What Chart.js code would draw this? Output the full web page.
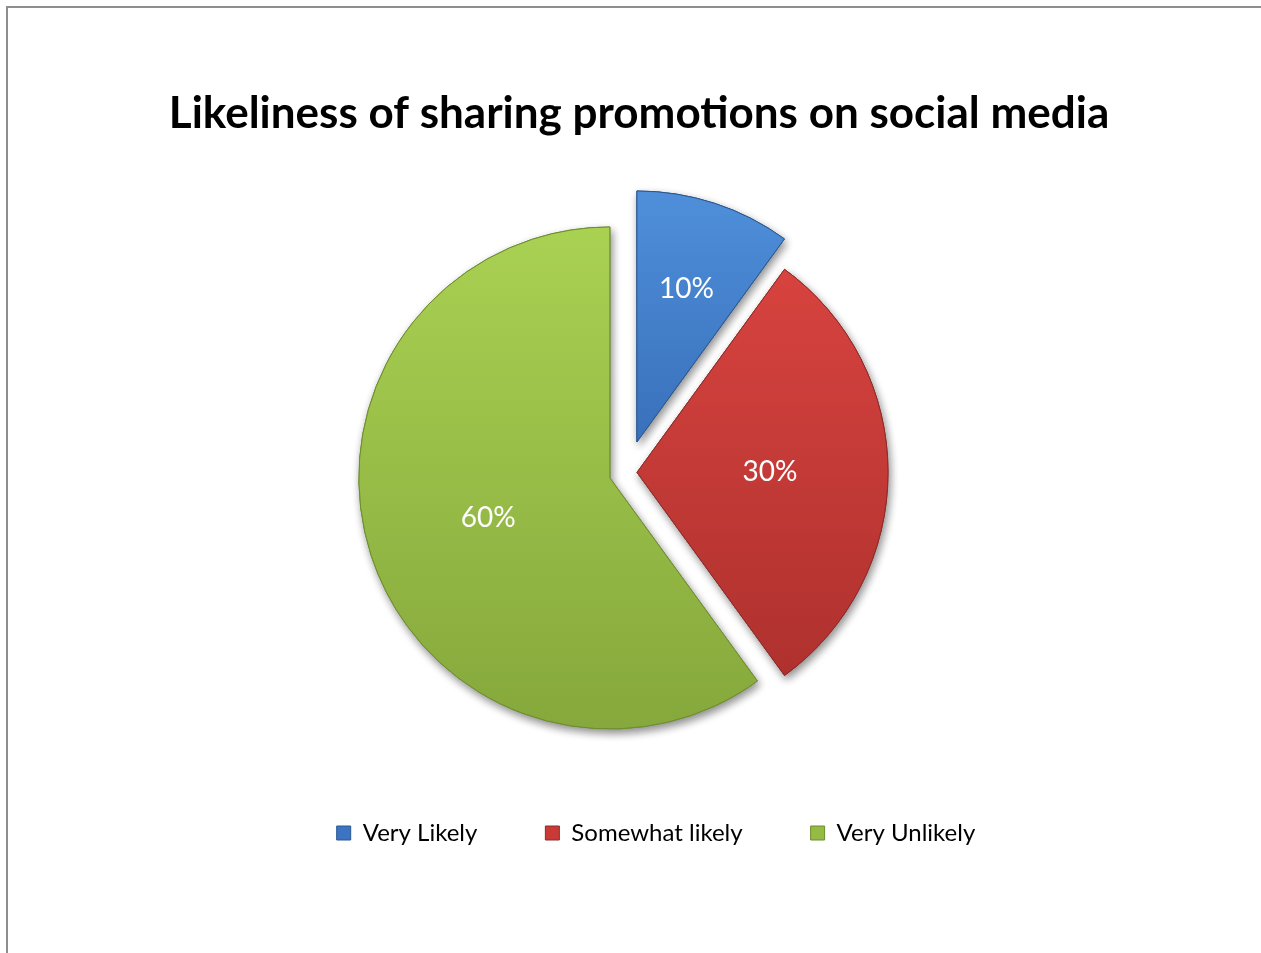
<!DOCTYPE html>
<html lang="en">
<head>
  <meta charset="UTF-8" />
  <title>Likeliness of sharing promotions on social media</title>
  <style>
    body {
      margin: 0;
      background: #fff;
    }

    /* page frame, only the top and left edges show */
    #frame {
      position: absolute;
      left: 6px;
      top: 6px;
      width: 1400px;
      height: 1100px;
      border-top: 2px solid #8e8e8e;
      border-left: 2px solid #8e8e8e;
    }

    #wrap {
      position: absolute;
      left: 0;
      top: 0;
      width: 1261px;
      height: 953px;
    }
  </style>
</head>
<body>
  <div id="frame"></div>
  <div id="wrap">
    <canvas id="shareChart"></canvas>
  </div>

  <script src="https://cdn.jsdelivr.net/npm/chart.js"></script>
  <script>
    // Survey answers (percent of respondents)
    const answers = ['Very Likely', 'Somewhat likely', 'Very Unlikely'];
    const shares = [10, 30, 60];

    // Slice shading: lighter at the top of the pie, darker towards the bottom
    const topColors = ['#4f8fda', '#dc4541', '#a9d152'];
    const bottomColors = ['#23519b', '#aa2f2c', '#86a83c'];
    const edgeColors = ['#2b5790', '#8e2b28', '#6d8d2e'];
    const legendColors = ['#3b74c2', '#c93a37', '#95bb45'];

    // How far each slice is pulled out (px) and where its label sits (share of radius)
    const explode = [32, 10, 18];
    const labelAt = [0.64, 0.53, 0.51];

    const pieRadius = 251;
    // title and legend are nudged sideways from the pie centre
    const titleShift = 12;
    const legendShift = 29;

    Chart.defaults.font.family = 'Lato, "Open Sans", sans-serif';

    function sliceFill(c) {
      const { ctx, chartArea } = c.chart;
      const i = c.dataIndex;
      if (!chartArea) return topColors[i];
      const cy = (chartArea.top + chartArea.bottom) / 2;
      const g = ctx.createLinearGradient(0, cy - pieRadius, 0, cy + pieRadius);
      g.addColorStop(0, topColors[i]);
      g.addColorStop(1, bottomColors[i]);
      return g;
    }

    // draws every slice moved out along its bisector, with a soft drop shadow
    const explodedSlices = {
      id: 'explodedSlices',
      beforeDatasetDraw(chart, args) {
        const ctx = chart.ctx;
        const arcs = args.meta.data;
        const place = (arc, i) => {
          const mid = (arc.startAngle + arc.endAngle) / 2;
          ctx.translate(Math.cos(mid) * explode[i], Math.sin(mid) * explode[i]);
        };
        // shadow pass
        arcs.forEach((arc, i) => {
          ctx.save();
          place(arc, i);
          ctx.shadowColor = 'rgba(0, 0, 0, 0.45)';
          ctx.shadowBlur = 9;
          ctx.shadowOffsetX = 2;
          ctx.shadowOffsetY = 4;
          arc.draw(ctx);
          ctx.restore();
        });
        // clean pass on top
        arcs.forEach((arc, i) => {
          ctx.save();
          place(arc, i);
          arc.draw(ctx);
          ctx.restore();
        });
        return false;
      }
    };

    // percentage labels inside the slices
    const sliceLabels = {
      id: 'sliceLabels',
      afterDatasetsDraw(chart) {
        const ctx = chart.ctx;
        chart.getDatasetMeta(0).data.forEach((arc, i) => {
          const mid = (arc.startAngle + arc.endAngle) / 2;
          const r = explode[i] + labelAt[i] * arc.outerRadius;
          ctx.save();
          ctx.font = '28px Lato, "Open Sans", sans-serif';
          ctx.fillStyle = '#ffffff';
          ctx.textAlign = 'center';
          ctx.textBaseline = 'middle';
          ctx.fillText(shares[i] + '%', arc.x + Math.cos(mid) * r, arc.y + Math.sin(mid) * r);
          ctx.restore();
        });
      }
    };

    const nudgeBoxes = {
      id: 'nudgeBoxes',
      afterLayout(chart) {
        chart.titleBlock.left += titleShift;
        chart.titleBlock.right += titleShift;
        chart.legend.left += legendShift;
        chart.legend.right += legendShift;
      }
    };

    const ctx = document.getElementById('shareChart').getContext('2d');

    new Chart(ctx, {
      type: 'pie',
      data: {
        labels: answers,
        datasets: [{
          data: shares,
          backgroundColor: sliceFill,
          borderColor: edgeColors,
          borderWidth: 1,
          hoverOffset: 0
        }]
      },
      options: {
        responsive: true,
        maintainAspectRatio: false,
        animation: false,
        events: [],
        radius: pieRadius,
        layout: {
          padding: { top: 0, right: 7, bottom: 98, left: 0 }
        },
        plugins: {
          title: {
            display: true,
            text: 'Likeliness of sharing promotions on social media',
            color: '#000000',
            font: { size: 44, weight: 'bold' },
            padding: { top: 87, bottom: 52 }
          },
          legend: {
            position: 'bottom',
            labels: {
              boxWidth: 14,
              boxHeight: 14,
              padding: 68,
              color: '#000000',
              font: { size: 24 },
              generateLabels(chart) {
                const items = Chart.overrides.pie.plugins.legend.labels.generateLabels(chart);
                return items.map((item, i) => Object.assign(item, {
                  fillStyle: legendColors[i],
                  strokeStyle: edgeColors[i],
                  lineWidth: 1
                }));
              }
            }
          },
          tooltip: { enabled: false }
        }
      },
      plugins: [explodedSlices, sliceLabels, nudgeBoxes]
    });
  </script>
</body>
</html>
